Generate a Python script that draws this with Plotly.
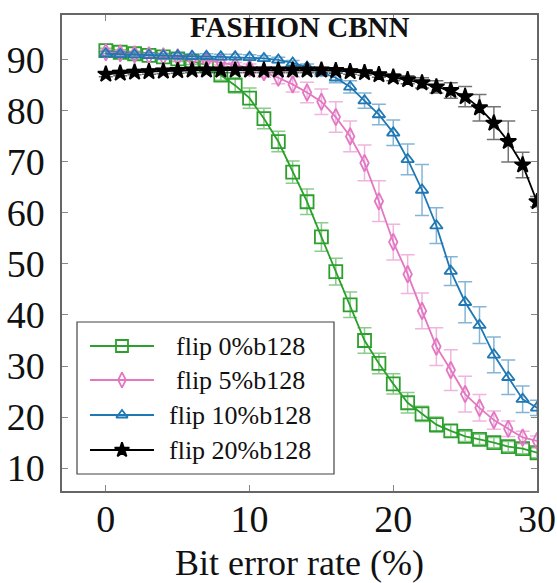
import plotly.graph_objects as go

ber = list(range(0, 31))

flip0 = [91.8, 91.5, 91.2, 90.9, 90.6, 90.2, 89.7, 89.0, 87.0, 85.0, 82.5, 78.5, 74.0, 68.0, 62.2, 55.3,
         48.5, 42.0, 35.0, 30.5, 26.5, 22.8, 20.6, 18.5, 17.3, 16.2, 15.6, 15.0, 14.2, 13.8, 13.0]
flip0_err = [0.5, 0.5, 0.5, 0.5, 0.5, 0.5, 0.6, 0.8, 1.0, 1.5, 2.0, 2.0, 2.0, 2.2, 2.5, 2.8,
             2.6, 2.5, 2.5, 2.0, 2.0, 2.0, 1.5, 1.5, 1.2, 1.0, 1.0, 1.0, 1.0, 1.0, 1.0]

flip5 = [91.5, 91.3, 91.1, 90.9, 90.7, 90.5, 90.2, 89.9, 89.5, 89.0, 88.4, 87.6, 86.5, 85.2, 83.6, 81.8,
         78.8, 75.0, 69.8, 62.3, 54.3, 48.0, 40.8, 33.8, 29.2, 24.5, 21.8, 19.4, 17.7, 16.0, 15.3]
flip5_err = [0.5, 0.5, 0.5, 0.5, 0.5, 0.5, 0.5, 0.5, 0.5, 0.5, 0.8, 1.0, 1.2, 1.5, 2.0, 2.5,
             3.0, 3.0, 3.5, 4.0, 3.5, 3.8, 3.5, 3.7, 4.0, 3.5, 2.6, 1.8, 1.5, 1.2, 1.0]

flip10 = [91.2, 91.1, 91.0, 90.9, 90.8, 90.8, 90.7, 90.7, 90.6, 90.6, 90.5, 90.3, 90.0, 89.4, 88.6, 87.6,
          86.5, 84.7, 82.0, 79.3, 75.7, 70.5, 64.5, 57.5, 48.6, 42.5, 38.0, 32.2, 27.8, 23.5, 21.8]
flip10_err = [0.5, 0.5, 0.5, 0.5, 0.5, 0.5, 0.5, 0.5, 0.5, 0.5, 0.5, 0.5, 0.5, 0.5, 0.6, 0.8,
              1.0, 1.2, 1.5, 2.0, 2.5, 3.0, 5.0, 3.5, 2.8, 4.0, 3.6, 3.5, 3.4, 2.6, 1.5]

flip20 = [87.2, 87.4, 87.6, 87.7, 87.8, 87.9, 88.0, 88.0, 88.0, 88.0, 88.0, 88.0, 88.0, 88.0, 88.0, 88.0,
          87.9, 87.7, 87.5, 87.1, 86.6, 86.1, 85.5, 84.7, 84.0, 82.8, 80.6, 77.6, 74.0, 69.4, 62.2]
flip20_err = [0.5, 0.5, 0.5, 0.5, 0.5, 0.5, 0.5, 0.5, 0.5, 0.5, 0.5, 0.5, 0.5, 0.5, 0.5, 0.5,
              0.5, 0.5, 0.5, 0.5, 0.7, 0.8, 1.0, 1.2, 1.5, 2.0, 2.6, 3.2, 4.0, 2.5, 1.0]

series_names = ["flip 0%b128", "flip 5%b128", "flip 10%b128", "flip 20%b128"]
x_ticks = [0, 10, 20, 30]
y_ticks = [10, 20, 30, 40, 50, 60, 70, 80, 90]

styles = [
    dict(color="rgb(44,160,44)", err="rgba(44,160,44,0.55)", symbol="square-open", size=13),
    dict(color="rgb(227,119,194)", err="rgba(227,119,194,0.55)", symbol="diamond-tall-open", size=12),
    dict(color="rgb(31,119,180)", err="rgba(31,119,180,0.55)", symbol="triangle-up-open", size=11),
    dict(color="rgb(0,0,0)", err="rgba(0,0,0,0.55)", symbol="star", size=12),
]

W, H = 557, 583
ML, MR, MT, MB = 62, 20, 15, 92
PW, PH = W - ML - MR, H - MT - MB


def px_x(p):
    return (p - ML) / PW


def px_y(p):
    return (H - MB - p) / PH


fig = go.Figure()
for name, ys, es, st in zip(series_names, [flip0, flip5, flip10, flip20],
                            [flip0_err, flip5_err, flip10_err, flip20_err], styles):
    fig.add_trace(go.Scatter(
        x=ber, y=ys, name=name, mode="lines+markers", showlegend=False,
        line=dict(color=st["color"], width=1.8),
        marker=dict(symbol=st["symbol"], size=st["size"], color=st["color"],
                    line=dict(color=st["color"], width=1.8)),
        error_y=dict(type="data", array=es, visible=True, color=st["err"],
                     thickness=1.5, width=7),
    ))

# custom legend (box drawn as shape, samples on an overlay axis in paper-like units)
legend_rows = [346, 380, 415, 450]
annotations = []
for name, st, row in zip(series_names, styles, legend_rows):
    yy = px_y(row)
    fig.add_trace(go.Scatter(
        x=[px_x(90), px_x(154)], y=[yy, yy], mode="lines", xaxis="x2", yaxis="y2",
        line=dict(color=st["color"], width=1.8), showlegend=False, hoverinfo="skip"))
    fig.add_trace(go.Scatter(
        x=[px_x(122)], y=[yy], mode="markers", xaxis="x2", yaxis="y2",
        marker=dict(symbol=st["symbol"], size=st["size"] - 1, color=st["color"],
                    line=dict(color=st["color"], width=1.8)),
        showlegend=False, hoverinfo="skip"))
    annotations.append(dict(text=name, x=px_x(240), y=yy, xref="paper", yref="paper",
                            xanchor="center", yanchor="middle", showarrow=False,
                            font=dict(family="Liberation Serif", size=26, color="#111")))

axis_common = dict(
    showline=True, linecolor="#666", linewidth=1.5, mirror="ticks",
    ticks="inside", ticklen=6, tickcolor="#888", tickwidth=1.2,
    showgrid=False, zeroline=False, automargin=False,
    tickfont=dict(family="Liberation Serif", size=38, color="#111"),
)

annotations += [
    dict(text="<b>FASHION CBNN</b>", x=0.5, y=1.0, xref="paper", yref="paper",
         xanchor="center", yanchor="top", yshift=6, showarrow=False,
         font=dict(family="Liberation Serif", size=29, color="#111")),
    dict(text="Bit error rate (%)", x=0.5, y=0.0, xref="paper", yref="paper",
         xanchor="center", yanchor="middle", yshift=-72, showarrow=False,
         font=dict(family="Liberation Serif", size=36, color="#111")),
]

fig.update_layout(
    width=W, height=H,
    margin=dict(l=ML, r=MR, t=MT, b=MB),
    paper_bgcolor="white", plot_bgcolor="white",
    xaxis=dict(range=[-3.05, 30.0], tickvals=x_ticks, ticklabelstandoff=-6, **axis_common),
    yaxis=dict(range=[5.5, 98.8], tickvals=y_ticks, ticklabelstandoff=8, **axis_common),
    xaxis2=dict(overlaying="x", range=[0, 1], visible=False, fixedrange=True),
    yaxis2=dict(overlaying="y", range=[0, 1], visible=False, fixedrange=True),
    showlegend=False,
    hovermode=False,
    shapes=[dict(type="rect", xref="paper", yref="paper", layer="below",
                 x0=px_x(77), x1=px_x(334), y0=px_y(474), y1=px_y(322),
                 line=dict(color="#444", width=1.2), fillcolor="white")],
    annotations=annotations,
)

fig.write_html("out.html", config={"displayModeBar": False},
               post_script="document.body.style.margin='0';")
